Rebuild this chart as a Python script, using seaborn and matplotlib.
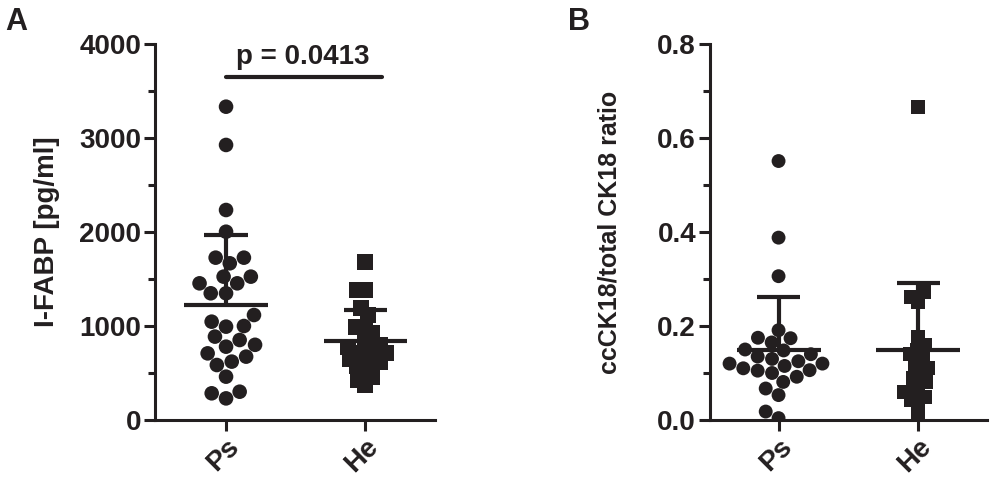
import numpy as np
import pandas as pd
import matplotlib
matplotlib.use("Agg")
import matplotlib.pyplot as plt
from matplotlib.ticker import MultipleLocator
import seaborn as sns

# values
groups = ["Ps", "He"]

fabp_ps = [3333, 2926, 2234, 2003, 1727, 1727, 1667, 1525, 1525, 1454, 1454,
           1348, 1348, 1117, 1046, 1000, 993, 887, 851, 800, 780, 709, 674,
           621, 585, 461, 301, 230, 284]
fabp_he = [1684, 1383, 1383, 1188, 1117, 993, 993, 925, 851, 800, 780, 780,
           709, 709, 700, 650, 620, 596, 574, 532, 461, 425, 372]

ck_ps = [0.551, 0.388, 0.306, 0.191, 0.175, 0.174, 0.165, 0.150, 0.148, 0.140,
         0.135, 0.130, 0.125, 0.120, 0.120, 0.115, 0.110, 0.106, 0.105, 0.100,
         0.092, 0.081, 0.067, 0.053, 0.018, 0.004]
ck_he = [0.667, 0.272, 0.262, 0.252, 0.177, 0.160, 0.150, 0.140, 0.130, 0.120,
         0.110, 0.100, 0.090, 0.080, 0.070, 0.060, 0.050, 0.043, 0.035, 0.004]

p_text = "p = 0.0413"

ink = "#231f20"

sns.set_style("ticks")
plt.rcParams["font.family"] = ["Liberation Sans", "DejaVu Sans"]
plt.rcParams["font.weight"] = "bold"
plt.rcParams["text.color"] = ink
plt.rcParams["axes.labelcolor"] = ink
plt.rcParams["xtick.color"] = ink
plt.rcParams["ytick.color"] = ink
plt.rcParams["axes.edgecolor"] = ink

fig = plt.figure(figsize=(9.92, 4.92), dpi=100)
axA = fig.add_axes([155 / 992, 72 / 492, 280 / 992, 376 / 492])
axB = fig.add_axes([710 / 992, 72 / 492, 277 / 992, 376 / 492])


def make_df(a, b, col):
    return pd.DataFrame({"group": ["Ps"] * len(a) + ["He"] * len(b),
                         col: list(a) + list(b)})


def draw_panel(ax, df, col, ymax, major, minor, size):
    sns.swarmplot(data=df, x="group", y=col, hue="group", order=groups,
                  hue_order=groups, palette=[ink, ink], ax=ax, size=size,
                  legend=False)
    # squares for the second group
    coll = ax.collections[1]
    offs = coll.get_offsets()
    coll.remove()
    ax.scatter(offs[:, 0], offs[:, 1], marker="s", s=(size * 1.05) ** 2,
               color=ink, linewidths=0, zorder=3)
    for i, g in enumerate(groups):
        v = df.loc[df.group == g, col].to_numpy()
        m, sd = v.mean(), v.std(ddof=1)
        ax.hlines(m, i - 0.3, i + 0.3, color=ink, lw=3, zorder=4)
        ax.vlines(i, m, m + sd, color=ink, lw=3, zorder=4)
        ax.hlines(m + sd, i - 0.155, i + 0.155, color=ink, lw=3, zorder=4)
    ax.set_ylim(0, ymax)
    ax.set_xlim(-0.5, 1.5)
    ax.yaxis.set_major_locator(MultipleLocator(major))
    ax.yaxis.set_minor_locator(MultipleLocator(minor))
    sns.despine(ax=ax)
    ax.spines["left"].set_linewidth(2.2)
    ax.spines["bottom"].set_linewidth(2.2)
    ax.tick_params(axis="both", which="major", direction="out", length=8,
                   width=2.2, labelsize=20, pad=2)
    ax.tick_params(axis="y", which="minor", direction="out", length=5,
                   width=2.2)
    ax.set_xlabel("")
    for lab in ax.get_xticklabels():
        lab.set_rotation(45)
        lab.set_ha("right")
        lab.set_rotation_mode("anchor")
        lab.set_fontweight("bold")
    for lab in ax.get_yticklabels():
        lab.set_fontweight("bold")


draw_panel(axA, make_df(fabp_ps, fabp_he, "fabp"), "fabp", 4000, 1000, 500, 10.5)
axA.set_xlim(-0.51, 1.5)
axA.set_ylabel("I-FABP [pg/ml]", fontsize=20, fontweight="bold", labelpad=14)
axA.plot([0, 1.12], [3650, 3650], color=ink, lw=3, clip_on=False)
axA.text(0.55, 3720, p_text, ha="center", va="bottom", fontsize=20,
         fontweight="bold")

draw_panel(axB, make_df(ck_ps, ck_he, "ck"), "ck", 0.8, 0.2, 0.1, 10)
axB.set_xlim(-0.49, 1.49)
axB.set_ylabel("ccCK18/total CK18 ratio", fontsize=18, fontweight="bold",
               labelpad=26)

fig.text(0.005, 0.985, "A", fontsize=22, fontweight="bold", va="top")
fig.text(0.573, 0.985, "B", fontsize=22, fontweight="bold", va="top")

fig.savefig("out.png", dpi=100)
